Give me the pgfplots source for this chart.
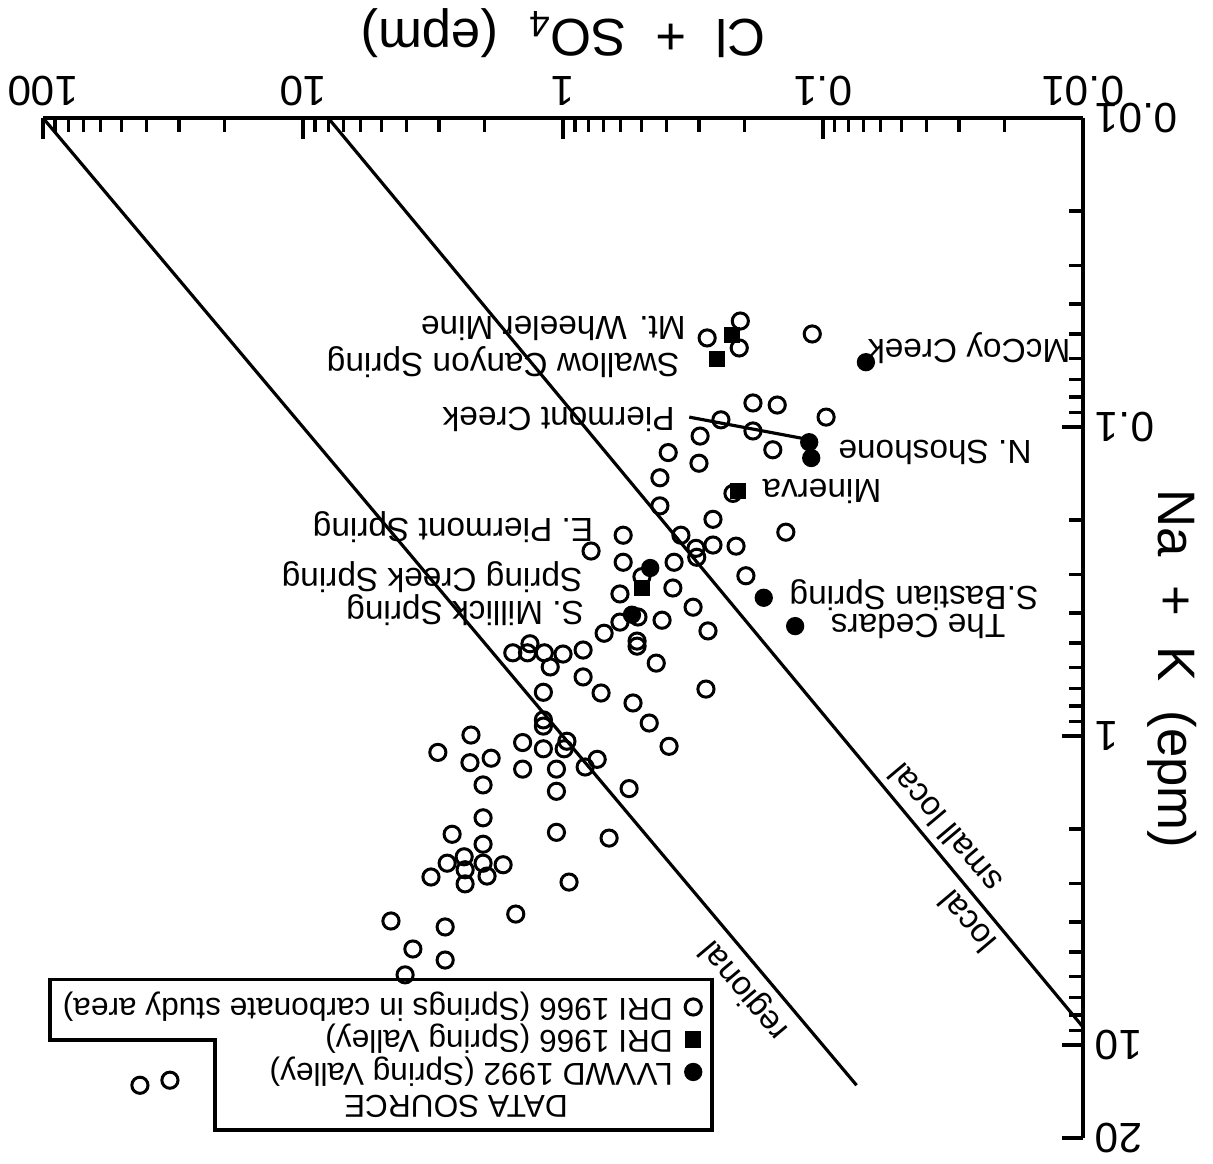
\documentclass[border=0pt]{standalone}
\usepackage{graphicx}
\usepackage{fontspec}
\setmainfont{Liberation Sans}
\usepackage{pgfplots}
\pgfplotsset{compat=1.18}
\pgfplotsset{mark legend/.style={legend image code/.code={\draw[##1] plot coordinates {(0mm,0mm)};}}}

\newcommand{\lab}{\fontsize{9.5}{11}\selectfont}
\newsavebox{\figbox}

\begin{document}
% the original figure is printed upside down
\begin{lrbox}{\figbox}%
\begin{tikzpicture}
\useasboundingbox (-13mm,-11.8mm) rectangle (108.3mm,104.5mm);
\begin{axis}[
  scale only axis,
  width=104mm, height=102mm,
  xmode=log, ymode=log,
  xmin=0.01, xmax=100, ymin=0.01, ymax=20,
  axis lines*=left,
  axis line style={-, line width=0.9pt},
  tick pos=left,
  tick align=inside,
  major tick length=2.1mm,
  minor tick length=1.4mm,
  tick style={black, line width=0.9pt},
  xtick={0.01,0.1,1,10,100},
  xticklabels={0.01,0.1,1,10,100},
  ytick={0.01,0.1,1,10,20},
  yticklabels={0.01,0.1,1,10,20},
  minor xtick={0.02,0.03,0.04,0.05,0.06,0.07,0.08,0.09,0.2,0.3,0.4,0.5,0.6,0.7,0.8,0.9,2,3,4,5,6,7,8,9,20,30,40,50,60,70,80,90},
  minor ytick={0.02,0.03,0.04,0.05,0.06,0.07,0.08,0.09,0.2,0.3,0.4,0.5,0.6,0.7,0.8,0.9,2,3,4,5,6,7,8,9},
  ticklabel style={font=\fontsize{12}{14}\selectfont},
  xlabel={Cl\ \ +\ \ SO\textsubscript{4}\ \ (epm)},
  ylabel={Na\ \ +\ \ K\ \ (epm)},
  label style={font=\fontsize{15}{18}\selectfont},
  xlabel style={at={(axis description cs:0.5,-0.083)}, anchor=center},
  ylabel style={at={(axis description cs:-0.0856,0.54)}, anchor=center},
  clip=false,
  legend cell align=left,
  legend style={draw=none, fill=none, inner sep=0pt,
    at={(axis description cs:0.366,0.983)}, anchor=north west,
    font=\fontsize{9}{11}\selectfont,
    nodes={inner sep=0pt, text height=2.4mm, text depth=0.7mm},
    row sep=0.15mm, column sep=1.2mm},
]

% legend entries
\addlegendimage{empty legend}
\addlegendentry{\hspace*{10.5mm}DATA SOURCE}
\addlegendimage{only marks, mark=*, mark size=2.4pt, black, mark legend}
\addlegendentry{LVVWD 1992 (Spring Valley)}
\addlegendimage{only marks, mark=square*, mark size=2.1pt, black, mark legend}
\addlegendentry{DRI 1966 (Spring Valley)}
\addlegendimage{only marks, mark=o, mark size=2.3pt, black, mark options={line width=0.85pt}, mark legend}
\addlegendentry{DRI 1966 (Springs in carbonate study area)}

% regional and local lines
\addplot[black, line width=0.9pt, forget plot] coordinates {(100,0.01) (0.0743,13.5)};
\addplot[black, line width=0.9pt, forget plot] coordinates {(8.0,0.01) (0.01,8.75)};
% leader line for Piermont Creek
\addplot[black, line width=0.9pt, forget plot] coordinates {(0.327,0.0929) (0.119,0.109)};

% DRI 1966, springs in carbonate study area
\addplot[only marks, mark=o, mark size=2.3pt, black, mark options={line width=0.85pt}, forget plot] coordinates {
(0.208,0.0454) (0.279,0.0515) (0.210,0.0555) (0.110,0.0500) (0.186,0.0836)
(0.150,0.0849) (0.0973,0.0929) (0.247,0.0948) (0.186,0.103) (0.297,0.107)
(0.156,0.1185) (0.394,0.121) (0.300,0.131) (0.424,0.146) (0.222,0.164)
(0.424,0.180) (0.265,0.199) (0.139,0.219) (0.587,0.224) (0.352,0.224)
(0.308,0.247) (0.306,0.264) (0.265,0.241) (0.216,0.243) (0.780,0.252)
(0.587,0.274) (0.374,0.274) (0.497,0.305) (0.198,0.303) (0.378,0.332)
(0.604,0.347) (0.316,0.383) (0.515,0.412) (0.604,0.428) (0.416,0.422)
(0.695,0.465) (0.519,0.493) (0.519,0.512) (0.277,0.457) (1.34,0.503)
(1.56,0.538) (1.37,0.538) (1.18,0.538) (1.00,0.543) (0.837,0.527)
(1.12,0.598) (0.438,0.581) (0.837,0.644) (0.282,0.705) (1.19,0.722)
(0.714,0.726) (0.538,0.782) (0.466,0.908) (1.19,0.887) (1.19,0.929)
(0.391,1.08) (2.26,0.993) (1.43,1.05) (1.19,1.10) (0.966,1.04)
(0.99,1.10) (0.739,1.19) (0.822,1.26) (1.89,1.18) (2.28,1.22)
(1.43,1.28) (1.06,1.28) (2.03,1.44) (1.06,1.51) (0.557,1.48)
(3.03,1.13) (2.03,1.84) (1.06,2.05) (0.665,2.14) (2.67,2.08)
(2.03,2.24) (2.40,2.46) (2.79,2.58) (2.03,2.58) (1.70,2.61)
(2.38,2.71) (3.22,2.86) (1.96,2.84) (2.38,3.01) (0.948,2.97)
(4.59,3.97) (2.84,4.15) (1.52,3.77) (3.78,4.89) (2.84,5.31)
(4.05,5.93) (42.4,13.5) (32.5,13.0)
};

% DRI 1966, Spring Valley
\addplot[only marks, mark=square*, mark size=2.1pt, black, forget plot] coordinates {
(0.224,0.0504) (0.256,0.0603) (0.212,0.161) (0.497,0.332)
};

% LVVWD 1992, Spring Valley
\addplot[only marks, mark=*, mark size=2.4pt, black, forget plot] coordinates {
(0.0684,0.0617) (0.113,0.112) (0.111,0.126) (0.462,0.286)
(0.169,0.357) (0.543,0.405) (0.128,0.441)
};

% spring names
\node[font=\lab] at (axis cs:0.0274,0.0555) {McCoy Creek};
\node[font=\lab] at (axis cs:1.09,0.0479) {Mt. Wheeler Mine};
\node[font=\lab] at (axis cs:1.70,0.0617) {Swallow Canyon Spring};
\node[font=\lab] at (axis cs:1.04,0.0942) {Piermont Creek};
\node[font=\lab] at (axis cs:0.0371,0.121) {N. Shoshone};
\node[font=\lab] at (axis cs:0.101,0.162) {Minerva};
\node[font=\lab] at (axis cs:2.65,0.211) {E. Piermont Spring};
\node[font=\lab] at (axis cs:3.19,0.305) {Spring Creek Spring};
\node[font=\lab] at (axis cs:2.38,0.391) {S. Millick Spring};
\node[font=\lab] at (axis cs:0.0447,0.350) {S.Bastian Spring};
\node[font=\lab] at (axis cs:0.0431,0.443) {The Cedars};

% line labels
\node[font=\lab, rotate=-49.9] at (axis cs:0.0340,1.99) {small local};
\node[font=\lab, rotate=-49.9] at (axis cs:0.0279,4.00) {local};
\node[font=\lab, rotate=-49.9] at (axis cs:0.1995,6.64) {regional};

% legend frame
\draw[line width=0.9pt] (axis description cs:0.3567,0.9922) -- (axis description cs:0.8346,0.9922)
  -- (axis description cs:0.8346,0.9039) -- (axis description cs:0.9933,0.9039)
  -- (axis description cs:0.9933,0.8450) -- (axis description cs:0.3567,0.8450) -- cycle;
\end{axis}
\end{tikzpicture}%
\end{lrbox}%
\rotatebox{180}{\usebox{\figbox}}
\end{document}
